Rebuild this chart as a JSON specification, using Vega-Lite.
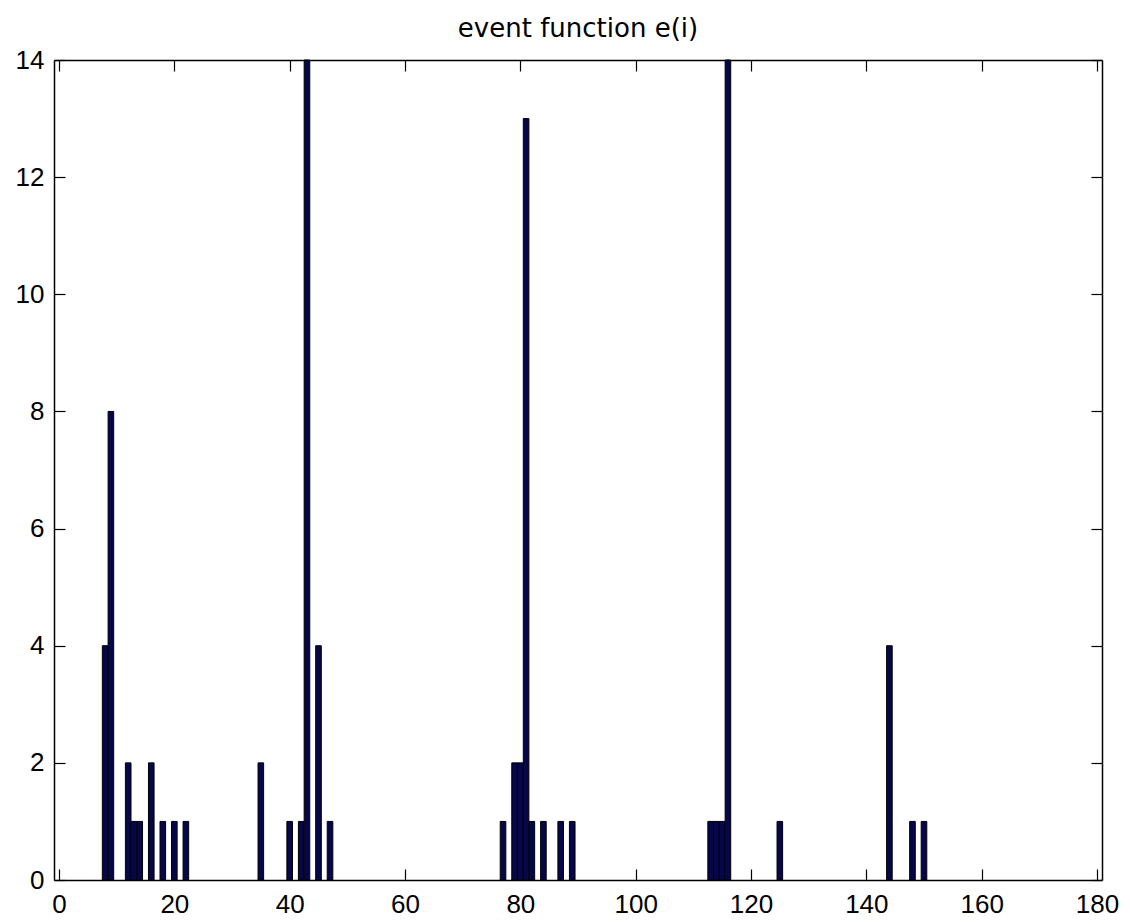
{
  "$schema": "https://vega.github.io/schema/vega-lite/v6.json",
  "autosize": {"type": "none"},
  "padding": {"left": 54, "top": 60, "right": 28, "bottom": 44},
  "width": 1048,
  "height": 820,
  "background": "white",
  "title": {
    "text": "event function e(i)",
    "font": "DejaVu Sans",
    "fontSize": 26,
    "fontWeight": "normal",
    "color": "black",
    "anchor": "middle",
    "offset": 5
  },
  "config": {
    "view": {"stroke": null},
    "axis": {
      "grid": false,
      "domainColor": "black",
      "domainWidth": 1.5,
      "tickColor": "black",
      "tickWidth": 1.2,
      "tickSize": -11,
      "labelColor": "black",
      "labelFont": "Liberation Sans",
      "labelFontSize": 26,
      "title": null
    }
  },
  "data": {
    "values": [
      {"i": 8, "e": 4}, {"i": 9, "e": 8}, {"i": 12, "e": 2}, {"i": 13, "e": 1},
      {"i": 14, "e": 1}, {"i": 16, "e": 2}, {"i": 18, "e": 1}, {"i": 20, "e": 1},
      {"i": 22, "e": 1}, {"i": 35, "e": 2}, {"i": 40, "e": 1}, {"i": 42, "e": 1},
      {"i": 43, "e": 14}, {"i": 45, "e": 4}, {"i": 47, "e": 1}, {"i": 77, "e": 1},
      {"i": 79, "e": 2}, {"i": 80, "e": 2}, {"i": 81, "e": 13}, {"i": 82, "e": 1},
      {"i": 84, "e": 1}, {"i": 87, "e": 1}, {"i": 89, "e": 1}, {"i": 113, "e": 1},
      {"i": 114, "e": 1}, {"i": 115, "e": 1}, {"i": 116, "e": 14}, {"i": 125, "e": 1},
      {"i": 144, "e": 4}, {"i": 148, "e": 1}, {"i": 150, "e": 1}
    ]
  },
  "layer": [
    {
      "mark": {"type": "bar", "size": 5.6, "fill": "#06064a", "stroke": "black", "strokeWidth": 1},
      "encoding": {
        "x": {
          "field": "i", "type": "quantitative",
          "scale": {"domain": [0, 180], "nice": false, "zero": false},
          "axis": {"orient": "bottom", "values": [0, 20, 40, 60, 80, 100, 120, 140, 160, 180], "labelPadding": 22, "labelFlush": false}
        },
        "y": {
          "field": "e", "type": "quantitative",
          "scale": {"domain": [0, 14], "nice": false},
          "axis": {"orient": "left", "values": [0, 2, 4, 6, 8, 10, 12, 14], "labelPadding": 21}
        }
      }
    },
    {
      "mark": {"type": "bar", "size": 5.6, "opacity": 0},
      "encoding": {
        "x": {
          "field": "i", "type": "quantitative",
          "scale": {"domain": [0, 180], "nice": false, "zero": false},
          "axis": {"orient": "top", "values": [0, 20, 40, 60, 80, 100, 120, 140, 160, 180], "labels": false}
        },
        "y": {
          "field": "e", "type": "quantitative",
          "scale": {"domain": [0, 14], "nice": false},
          "axis": {"orient": "right", "values": [0, 2, 4, 6, 8, 10, 12, 14], "labels": false}
        }
      }
    }
  ],
  "resolve": {"axis": {"x": "independent", "y": "independent"}}
}
